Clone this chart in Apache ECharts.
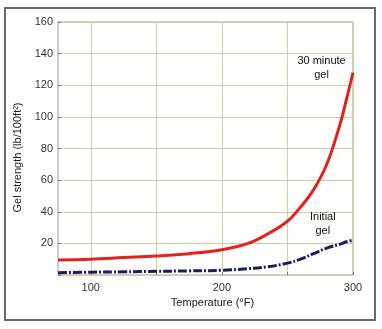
<!DOCTYPE html>
<html>
<head>
<meta charset="utf-8">
<script src="https://cdn.jsdelivr.net/npm/echarts@6/dist/echarts.min.js"></script>
<style>
  html, body { margin: 0; padding: 0; background: #ffffff; }
  #chart { width: 382px; height: 329px; }
</style>
</head>
<body>
<div id="chart"></div>
<script>
// Gel strength vs temperature
const temperatures = [75, 100, 125, 150, 175, 200, 220, 235, 250, 260, 270, 280, 290, 295, 300];
const gel30min    = [9.5, 10, 11, 12, 13.5, 16, 20, 26, 34, 43, 54, 70, 95, 111, 128];
const gelInitial  = [1.5, 1.8, 2.0, 2.3, 2.6, 3.0, 4.0, 5.2, 7.5, 10, 13.5, 17, 19.5, 21, 22];

const xTickValues  = [100, 150, 200, 250, 300];
const xLabelValues = [100, 200, 300];

const pairs = (xs, ys) => xs.map((x, i) => [x, ys[i]]);

const chart = echarts.init(document.getElementById('chart'), null, { renderer: 'canvas' });

const gridColor = '#d0d09a';
const textColor = '#333333';
const fontFamily = 'Liberation Sans, Arial, sans-serif';

chart.setOption({
  animation: false,
  backgroundColor: '#ffffff',
  graphic: [{
    type: 'rect',
    shape: { x: 5, y: 8, width: 370, height: 312 },
    style: { fill: 'none', stroke: '#6a6a6a', lineWidth: 2 },
    silent: true,
    z: -1
  }],
  grid: {
    left: 58, right: 29, top: 22, bottom: 54,
    show: true, borderColor: '#9a9a9a', borderWidth: 1, backgroundColor: '#ffffff'
  },
  xAxis: {
    type: 'value',
    min: 75, max: 300,
    name: 'Temperature (\u00b0F)',
    nameLocation: 'middle',
    nameGap: 20,
    nameTextStyle: { color: '#1a1a1a', fontSize: 11, fontFamily, padding: [0, 0, 0, 14] },
    axisLine: { show: false },
    axisTick: { show: true, customValues: xTickValues, length: 3, inside: true, lineStyle: { color: '#7a7a50' } },
    axisLabel: { customValues: xLabelValues, color: textColor, fontSize: 11, fontFamily, margin: 7 },
    splitLine: { show: true, lineStyle: { color: gridColor, width: 1 } }
  },
  yAxis: {
    type: 'value',
    min: 0, max: 160, interval: 20,
    name: 'Gel strength (lb/100ft\u00b2)',
    nameLocation: 'middle',
    nameGap: 29,
    nameTextStyle: { color: '#1a1a1a', fontSize: 11, fontFamily, padding: [0, 0, 0, -18] },
    axisLine: { show: false },
    axisTick: { show: true, length: 3, inside: true, lineStyle: { color: '#7a7a50' } },
    axisLabel: {
      color: textColor, fontSize: 11, fontFamily, margin: 5,
      formatter: v => (v === 0 ? '' : String(v))
    },
    splitLine: { show: true, lineStyle: { color: gridColor, width: 1 } }
  },
  series: [
    {
      name: '30 minute gel',
      type: 'line',
      data: pairs(temperatures, gel30min),
      smooth: 0.4,
      showSymbol: false,
      lineStyle: { color: '#e3231b', width: 3 },
      z: 3,
      markPoint: {
        symbolSize: 0,
        data: [{ coord: [276, 131], value: '30 minute\ngel' }],
        label: {
          show: true, formatter: '30 minute\ngel', color: '#111111',
          fontSize: 11, fontFamily, lineHeight: 14, align: 'center'
        }
      }
    },
    {
      name: 'Initial gel',
      type: 'line',
      data: pairs(temperatures, gelInitial),
      smooth: 0.4,
      showSymbol: false,
      lineStyle: { color: '#1c1c5a', width: 3, type: [9, 2, 2, 2] },
      z: 2,
      markPoint: {
        symbolSize: 0,
        data: [{ coord: [277, 32], value: 'Initial\ngel' }],
        label: {
          show: true, formatter: 'Initial\ngel', color: '#111111',
          fontSize: 11, fontFamily, lineHeight: 14, align: 'center'
        }
      }
    }
  ]
});
</script>
</body>
</html>
